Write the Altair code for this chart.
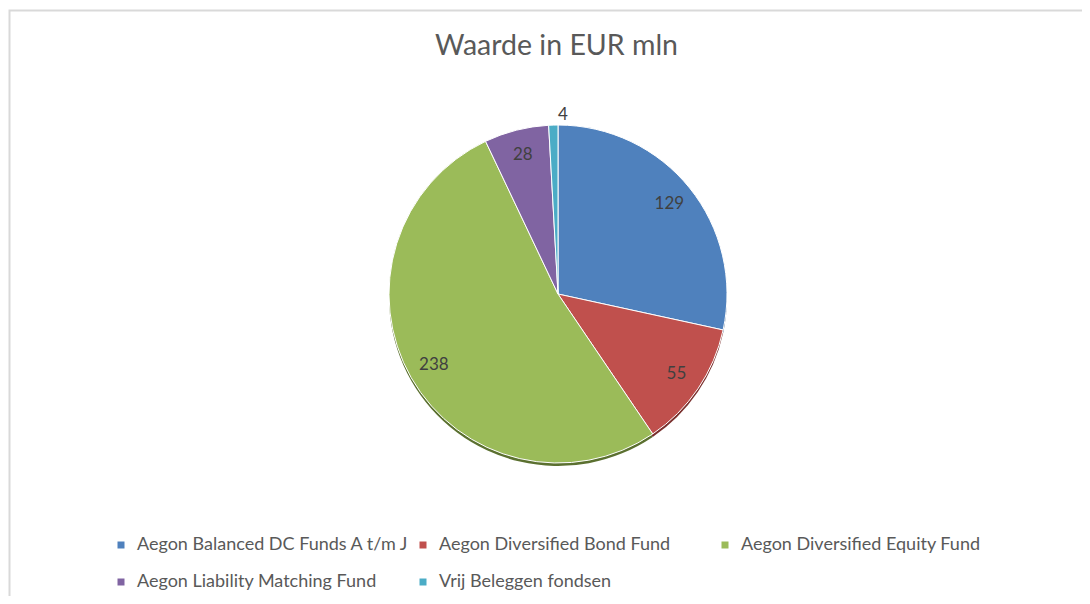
import altair as alt
import pandas as pd

names = [
    "Aegon Balanced DC Funds A t/m J",
    "Aegon Diversified Bond Fund",
    "Aegon Diversified Equity Fund",
    "Aegon Liability Matching Fund",
    "Vrij Beleggen fondsen",
]
values = [129, 55, 238, 28, 4]
colors = ["#4F81BD", "#C0504D", "#9BBB59", "#8064A2", "#4BACC6"]
shadow_colors = ["#2F4E73", "#7A2F2D", "#5B7030", "#4C3C61", "#2C6878"]

df = pd.DataFrame({"name": names, "value": values, "idx": list(range(len(names)))})

FONT = "Lato"
CX, CY = 550, 286
R = 169

base = alt.Chart(df)

border = alt.Chart(pd.DataFrame({"a": [0]})).mark_rect(
    fill=None, stroke="#d9d9d9", strokeWidth=2
).encode(
    x=alt.value(1.5), x2=alt.value(1500), y=alt.value(2.5), y2=alt.value(1000)
)

shadow = base.mark_arc(radius=R).encode(
    theta=alt.Theta("value:Q", stack=True),
    color=alt.Color("name:N", scale=alt.Scale(domain=names, range=shadow_colors), legend=None),
    order=alt.Order("idx:Q"),
    x=alt.value(CX),
    y=alt.value(CY + 3),
)

pie = base.mark_arc(radius=R, stroke="white", strokeWidth=1).encode(
    theta=alt.Theta("value:Q", stack=True),
    color=alt.Color(
        "name:N",
        scale=alt.Scale(domain=names, range=colors),
        sort=None,
        legend=alt.Legend(
            title=None,
            orient="none",
            legendX=104,
            legendY=528,
            direction="horizontal",
            columns=3,
            gridAlign="all",
            columnPadding=4,
            rowPadding=19,
            symbolType="square",
            symbolSize=49,
            symbolStrokeWidth=0,
            labelFont=FONT,
            labelFontSize=18,
            labelColor="#595959",
            labelLimit=400,
            labelOffset=7,
            padding=0,
        ),
    ),
    order=alt.Order("idx:Q"),
    x=alt.value(CX),
    y=alt.value(CY),
)

labels = base.transform_calculate(
    lr="datum.value < 10 ? 179 : 143"
).mark_text(font=FONT, fontSize=17, color="#404040").encode(
    theta=alt.Theta("value:Q", stack=True),
    radius=alt.Radius("lr:Q", scale=None),
    text=alt.Text("value:Q"),
    order=alt.Order("idx:Q"),
    x=alt.value(CX),
    y=alt.value(CY),
)

chart = alt.layer(border, shadow, pie, labels).resolve_scale(color="independent").properties(
    width=1074,
    height=588,
    autosize=alt.AutoSizeParams(type="none"),
    padding=0,
    title=alt.TitleParams(
        "Waarde in EUR mln",
        font=FONT,
        fontSize=28.5,
        fontWeight="normal",
        color="#595959",
        anchor="middle",
        dx=11.5,
        offset=-52,
    ),
).configure_view(stroke=None)

chart.save("out.html", embed_options={"renderer": "svg", "actions": False})
